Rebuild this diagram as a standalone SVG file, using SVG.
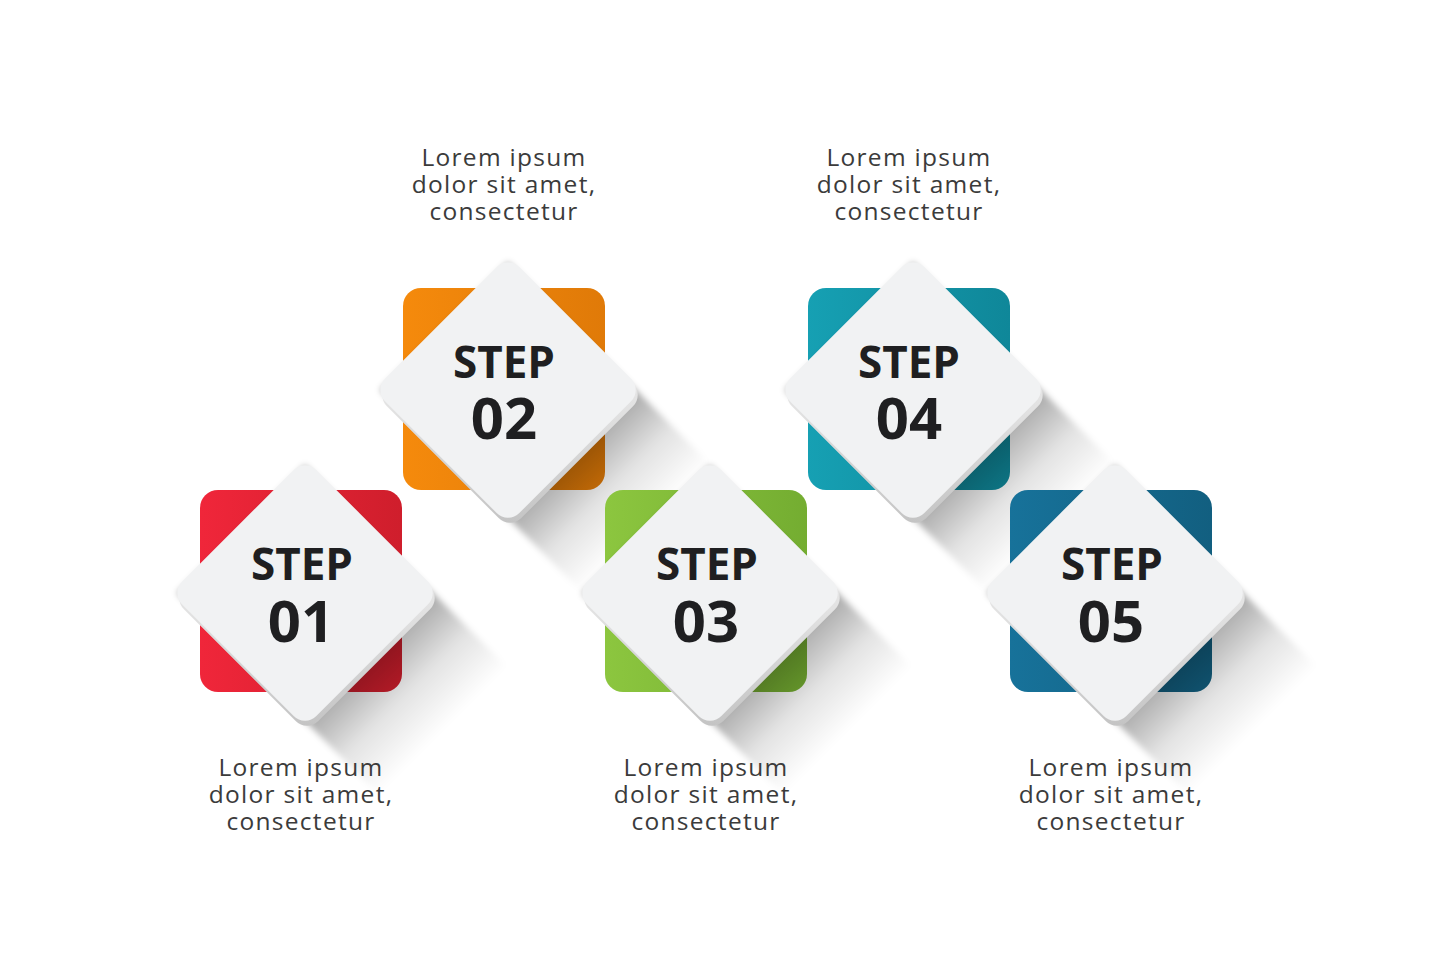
<svg xmlns="http://www.w3.org/2000/svg" xmlns:xlink="http://www.w3.org/1999/xlink" width="1435" height="980" viewBox="0 0 1435 980">
<style>
.step{font-family:"Open Sans","Liberation Sans",sans-serif;font-weight:bold;fill:#1f1f21;text-anchor:middle}
.s1{font-size:44px}
.s2{font-size:58px}
.desc{font-family:"Open Sans","Liberation Sans",sans-serif;font-size:24.5px;fill:#3b3b3b;text-anchor:middle;letter-spacing:1.3px}
.edge{fill:url(#edgeG)}
.face{fill:#f1f2f3}
</style>
<defs>
<rect id="dm" x="-95" y="-95" width="190" height="190" rx="16" transform="rotate(45)"/>
<rect id="sq" x="-101" y="-101" width="202" height="202" rx="18"/>
<linearGradient id="edgeG" x1="0" y1="0" x2="1" y2="1">
<stop offset="0" stop-color="#f4f4f4"/><stop offset="0.55" stop-color="#e2e2e2"/><stop offset="1" stop-color="#c2c2c2"/>
</linearGradient>
<linearGradient id="gRed" x1="0" y1="0" x2="1" y2="0"><stop offset="0" stop-color="#f0263a"/><stop offset="1" stop-color="#cf1e2c"/></linearGradient>
<linearGradient id="gOrange" x1="0" y1="0" x2="1" y2="0"><stop offset="0" stop-color="#f58a0c"/><stop offset="1" stop-color="#e07a08"/></linearGradient>
<linearGradient id="gGreen" x1="0" y1="0" x2="1" y2="0"><stop offset="0" stop-color="#8cc63f"/><stop offset="1" stop-color="#74ad31"/></linearGradient>
<linearGradient id="gTeal" x1="0" y1="0" x2="1" y2="0"><stop offset="0" stop-color="#16a0b3"/><stop offset="1" stop-color="#0f8799"/></linearGradient>
<linearGradient id="gBlue" x1="0" y1="0" x2="1" y2="0"><stop offset="0" stop-color="#17729a"/><stop offset="1" stop-color="#125f80"/></linearGradient>
<linearGradient id="shG" gradientUnits="userSpaceOnUse" x1="64" y1="64" x2="138" y2="138">
<stop offset="0" stop-color="#000" stop-opacity="0.34"/><stop offset="0.5" stop-color="#000" stop-opacity="0.11"/><stop offset="1" stop-color="#000" stop-opacity="0"/>
</linearGradient>
<filter id="blur" x="-20%" y="-20%" width="140%" height="140%"><feGaussianBlur stdDeviation="3"/></filter>
<g id="shadow"><polygon points="0,-128 128,0 202,74 74,202 0,128 -128,0" fill="url(#shG)" filter="url(#blur)"/></g>
<g id="diamond">
<use href="#dm" class="edge" transform="translate(2,5)"/>
<use href="#dm" class="face"/>
</g>
</defs>
<rect width="1435" height="980" fill="#ffffff"/>

<g id="step01">
<use href="#sq" fill="url(#gRed)" transform="translate(301,591)"/>
<use href="#shadow" transform="translate(305,593)"/>
<use href="#diamond" transform="translate(305,593)"/>
<text class="step s1" x="302" y="580">STEP</text>
<text class="step s2" x="301" y="642">01</text>
<text class="desc" x="301" y="776">Lorem ipsum</text>
<text class="desc" x="301" y="803">dolor sit amet,</text>
<text class="desc" x="301" y="830">consectetur</text>
</g>

<g id="step02">
<use href="#sq" fill="url(#gOrange)" transform="translate(504,389)"/>
<use href="#shadow" transform="translate(508,390)"/>
<use href="#diamond" transform="translate(508,390)"/>
<text class="step s1" x="504" y="378">STEP</text>
<text class="step s2" x="504" y="439">02</text>
<text class="desc" x="504" y="166">Lorem ipsum</text>
<text class="desc" x="504" y="193">dolor sit amet,</text>
<text class="desc" x="504" y="220">consectetur</text>
</g>

<g id="step03">
<use href="#sq" fill="url(#gGreen)" transform="translate(706,591)"/>
<use href="#shadow" transform="translate(710,593)"/>
<use href="#diamond" transform="translate(710,593)"/>
<text class="step s1" x="707" y="580">STEP</text>
<text class="step s2" x="706" y="642">03</text>
<text class="desc" x="706" y="776">Lorem ipsum</text>
<text class="desc" x="706" y="803">dolor sit amet,</text>
<text class="desc" x="706" y="830">consectetur</text>
</g>

<g id="step04">
<use href="#sq" fill="url(#gTeal)" transform="translate(909,389)"/>
<use href="#shadow" transform="translate(913,390)"/>
<use href="#diamond" transform="translate(913,390)"/>
<text class="step s1" x="909" y="378">STEP</text>
<text class="step s2" x="909" y="439">04</text>
<text class="desc" x="909" y="166">Lorem ipsum</text>
<text class="desc" x="909" y="193">dolor sit amet,</text>
<text class="desc" x="909" y="220">consectetur</text>
</g>

<g id="step05">
<use href="#sq" fill="url(#gBlue)" transform="translate(1111,591)"/>
<use href="#shadow" transform="translate(1115,593)"/>
<use href="#diamond" transform="translate(1115,593)"/>
<text class="step s1" x="1112" y="580">STEP</text>
<text class="step s2" x="1111" y="642">05</text>
<text class="desc" x="1111" y="776">Lorem ipsum</text>
<text class="desc" x="1111" y="803">dolor sit amet,</text>
<text class="desc" x="1111" y="830">consectetur</text>
</g>

<g id="connectors"></g>
</svg>
